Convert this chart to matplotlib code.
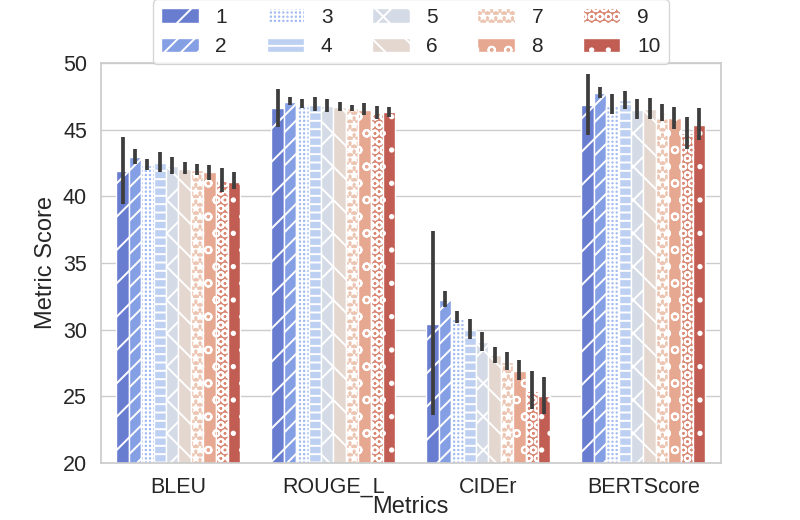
import matplotlib
matplotlib.use("Agg")
import matplotlib.pyplot as plt
import numpy as np
import seaborn as sns

sns.set_theme(style="whitegrid")
plt.rcParams['font.family'] = ['Liberation Sans', 'DejaVu Sans']
plt.rcParams['hatch.color'] = 'white'
plt.rcParams['hatch.linewidth'] = 1.4

metrics = ['BLEU', 'ROUGE_L', 'CIDEr', 'BERTScore']
runs = ['1', '2', '3', '4', '5', '6', '7', '8', '9', '10']
hatches = ['/', '//', '++++', '--', 'x', '\\', '**', 'o', 'OO', '.']

# mean score per metric, one column per run
bleu = [41.9, 42.93, 42.33, 42.48, 42.27, 42.05, 41.95, 41.78, 41.2, 41.07]
rouge_l = [46.62, 47.07, 46.95, 46.85, 46.8, 46.7, 46.62, 46.47, 46.28, 46.33]
cider = [30.42, 32.22, 30.8, 29.97, 29.07, 28.05, 27.55, 26.9, 25.4, 25.02]
bertscore = [46.85, 47.72, 46.85, 47.2, 46.47, 46.52, 46.22, 45.85, 44.72, 45.32]

# confidence interval bounds
bleu_lo = [39.43, 42.43, 41.98, 41.8, 41.68, 41.68, 41.6, 41.23, 40.35, 40.55]
bleu_hi = [44.43, 43.53, 42.78, 43.3, 42.93, 42.55, 42.4, 42.33, 42.1, 41.8]
rouge_lo = [45.23, 46.85, 46.6, 46.43, 46.35, 46.43, 46.43, 46.1, 45.78, 45.98]
rouge_hi = [48.08, 47.43, 47.28, 47.43, 47.28, 47.08, 46.88, 46.98, 46.78, 46.68]
cider_lo = [23.6, 31.67, 30.47, 29.28, 28.4, 27.47, 26.98, 26.23, 24.02, 23.67]
cider_hi = [37.42, 32.92, 31.42, 30.78, 29.8, 28.72, 28.35, 27.68, 26.92, 26.47]
bert_lo = [44.6, 47.35, 46.18, 46.53, 45.78, 45.78, 45.68, 45.03, 43.53, 44.23]
bert_hi = [49.18, 48.23, 47.65, 47.93, 47.28, 47.4, 46.9, 46.73, 45.98, 46.6]

means = np.array([bleu, rouge_l, cider, bertscore])
lows = np.array([bleu_lo, rouge_lo, cider_lo, bert_lo])
highs = np.array([bleu_hi, rouge_hi, cider_hi, bert_hi])

colors = [sns.desaturate(c, 0.75) for c in sns.color_palette('coolwarm', len(runs))]

fig = plt.figure(figsize=(8, 5.2), dpi=100)
ax = fig.add_axes([0.126, 0.11, 0.775, 0.769])

x = np.arange(len(metrics))
width = 0.8 / len(runs)
for j, run in enumerate(runs):
    pos = x + (j - (len(runs) - 1) / 2) * width
    m = means[:, j]
    err = np.vstack([m - lows[:, j], highs[:, j] - m])
    ax.bar(pos, m, width, color=colors[j], edgecolor='white', linewidth=1,
           hatch=hatches[j], label=run)
    ax.errorbar(pos, m, yerr=err, fmt='none', ecolor='#3d3d3d', elinewidth=2.7,
                capsize=0, zorder=3)

ax.set_xlim(-0.5, len(metrics) - 0.5)
ax.set_ylim(20, 50)
ax.set_xticks(x)
ax.set_xticklabels(metrics)
ax.tick_params(axis='both', labelsize=15.5, pad=4)
ax.grid(axis='x', visible=False)
ax.set_xlabel('Metrics', fontsize=17, labelpad=-1)
ax.set_ylabel('Metric Score', fontsize=17)

ax.legend(loc='upper center', bbox_to_anchor=(0.5, 1.185), ncol=5, fontsize=15,
          frameon=True, handlelength=1.8, handletextpad=0.8, columnspacing=1.9)

fig.savefig('out.png', dpi=100)
